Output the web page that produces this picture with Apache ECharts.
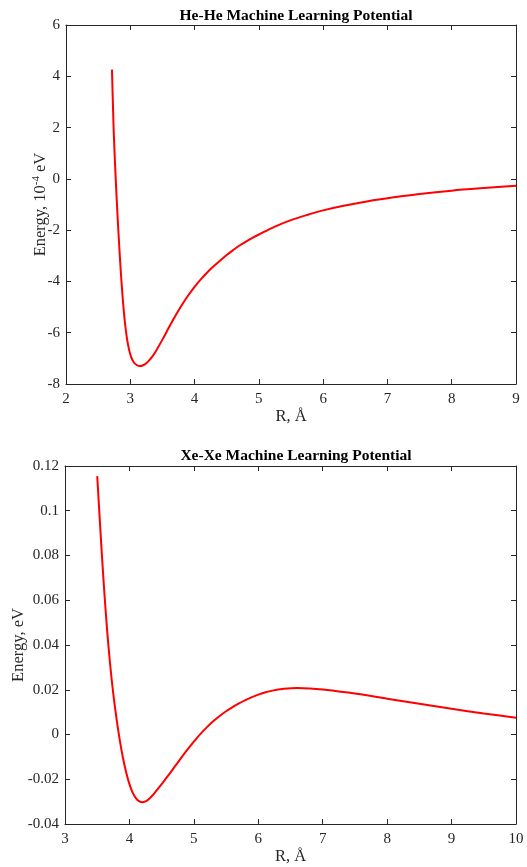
<!DOCTYPE html>
<html>
<head>
<meta charset="utf-8">
<script src="https://cdn.jsdelivr.net/npm/echarts@6/dist/echarts.min.js"></script>
<style>
html,body{margin:0;padding:0;background:#fff;}
#chart{width:527px;height:867px;}
</style>
</head>
<body>
<div id="chart"></div>
<script>
// He-He potential (energy in 1e-4 eV)
const heR = [2.715, 2.74, 2.76, 2.78, 2.80, 2.82, 2.84, 2.86, 2.88, 2.90, 2.92, 2.95, 2.98, 3.01, 3.05, 3.10, 3.15, 3.20, 3.25, 3.30, 3.35, 3.40, 3.50, 3.60, 3.70, 3.80, 3.90, 4.00, 4.10, 4.20, 4.30, 4.40, 4.50, 4.60, 4.70, 4.80, 4.90, 5.00, 5.25, 5.50, 5.75, 6.00, 6.30, 6.70, 7.10, 7.50, 8.00, 8.50, 9.00];
const heE = [4.26, 2.03, 0.75, -0.35, -1.35, -2.27, -3.12, -3.90, -4.58, -5.18, -5.68, -6.25, -6.65, -6.92, -7.14, -7.26, -7.30, -7.27, -7.19, -7.06, -6.90, -6.71, -6.27, -5.80, -5.35, -4.93, -4.55, -4.21, -3.91, -3.64, -3.40, -3.18, -2.97, -2.78, -2.60, -2.45, -2.30, -2.17, -1.86, -1.61, -1.41, -1.23, -1.06, -0.87, -0.72, -0.59, -0.46, -0.36, -0.27];
// Xe-Xe potential (energy in eV)
const xeR = [3.50, 3.55, 3.60, 3.65, 3.70, 3.75, 3.80, 3.85, 3.90, 3.95, 4.00, 4.05, 4.10, 4.15, 4.20, 4.25, 4.30, 4.35, 4.40, 4.50, 4.60, 4.70, 4.80, 4.90, 5.00, 5.10, 5.20, 5.30, 5.40, 5.50, 5.60, 5.70, 5.80, 5.90, 6.00, 6.10, 6.20, 6.40, 6.60, 6.80, 7.00, 7.50, 8.00, 8.50, 9.00, 9.50, 10.00];
const xeE = [0.1155, 0.0910, 0.0680, 0.0480, 0.0315, 0.0180, 0.0070, -0.0025, -0.0105, -0.0170, -0.0222, -0.0260, -0.0284, -0.0298, -0.0303, -0.0299, -0.0289, -0.0275, -0.0258, -0.0222, -0.0184, -0.0145, -0.0106, -0.0068, -0.0032, 0.0002, 0.0032, 0.0059, 0.0083, 0.0104, 0.0122, 0.0139, 0.0154, 0.0167, 0.0178, 0.0188, 0.0195, 0.0204, 0.0208, 0.0206, 0.0201, 0.0183, 0.0160, 0.0137, 0.0115, 0.0094, 0.0075];

const titles = ['He-He Machine Learning Potential', 'Xe-Xe Machine Learning Potential'];
const xNames = ['R, Å', 'R, Å'];

const FONT = '"Liberation Serif", "Times New Roman", serif';
const AX = '#262626';

function zip(a, b) { return a.map((v, i) => [v, b[i]]); }

const axisLine = { show: true, onZero: false, lineStyle: { color: AX, width: 1 } };
const axisTick = { show: true, inside: true, length: 5, lineStyle: { color: AX, width: 1 } };
const axisLabel = { color: AX, fontFamily: FONT, fontSize: 15 };

function xAxisMain(gi, min, max, name) {
  return {
    type: 'value', gridIndex: gi, min: min, max: max, interval: 1,
    position: 'bottom', axisLine, axisTick, splitLine: { show: false },
    axisLabel: Object.assign({ margin: 8 }, axisLabel),
    name: name, nameLocation: 'middle', nameGap: 24, nameMoveOverlap: false,
    nameTextStyle: { color: AX, fontFamily: FONT, fontSize: 16.5 }
  };
}
function xAxisTop(gi, min, max) {
  return {
    type: 'value', gridIndex: gi, min: min, max: max, interval: 1,
    position: 'top', axisLine, axisTick, splitLine: { show: false },
    axisLabel: { show: false }
  };
}
function yAxisMain(gi, min, max, interval, name, gap) {
  return {
    type: 'value', gridIndex: gi, min: min, max: max, interval: interval,
    position: 'left', axisLine, axisTick, splitLine: { show: false },
    axisLabel: Object.assign({ margin: 6 }, axisLabel),
    name: name, nameLocation: 'middle', nameGap: gap, nameMoveOverlap: false,
    nameTextStyle: {
      color: AX, fontFamily: FONT, fontSize: 16.5,
      rich: {
        a: { fontFamily: FONT, fontSize: 16.5, color: AX, lineHeight: 20 },
        s: { fontFamily: FONT, fontSize: 11, color: AX, lineHeight: 20, verticalAlign: 'top', padding: [0, 0, 8, 0] }
      }
    }
  };
}
function yAxisRight(gi, min, max, interval) {
  return {
    type: 'value', gridIndex: gi, min: min, max: max, interval: interval,
    position: 'right', axisLine, axisTick, splitLine: { show: false },
    axisLabel: { show: false }
  };
}

const chart = echarts.init(document.getElementById('chart'), null, { renderer: 'canvas' });
chart.setOption({
  animation: false,
  backgroundColor: '#fff',
  title: [
    { text: titles[0], left: 291, textAlign: 'center', top: 3,
      textStyle: { fontFamily: FONT, fontSize: 15.5, fontWeight: 'bold', color: '#000' } },
    { text: titles[1], left: 291, textAlign: 'center', top: 443,
      textStyle: { fontFamily: FONT, fontSize: 15.5, fontWeight: 'bold', color: '#000' } }
  ],
  grid: [
    { left: 66, top: 25, width: 450, height: 359, outerBoundsMode: 'none', containLabel: false },
    { left: 65, top: 466, width: 451, height: 358, outerBoundsMode: 'none', containLabel: false }
  ],
  xAxis: [
    xAxisMain(0, 2, 9, xNames[0]),
    xAxisTop(0, 2, 9),
    xAxisMain(1, 3, 10, xNames[1]),
    xAxisTop(1, 3, 10)
  ],
  yAxis: [
    yAxisMain(0, -8, 6, 2, '{a|Energy, 10}{s|-4}{a| eV}', 15),
    yAxisRight(0, -8, 6, 2),
    yAxisMain(1, -0.04, 0.12, 0.02, 'Energy, eV', 38),
    yAxisRight(1, -0.04, 0.12, 0.02)
  ],
  series: [
    { type: 'line', xAxisIndex: 0, yAxisIndex: 0, data: zip(heR, heE),
      showSymbol: false, smooth: 0.3,
      lineStyle: { color: '#ff0000', width: 2 }, itemStyle: { color: '#ff0000' } },
    { type: 'line', xAxisIndex: 2, yAxisIndex: 2, data: zip(xeR, xeE),
      showSymbol: false, smooth: 0.3,
      lineStyle: { color: '#ff0000', width: 2 }, itemStyle: { color: '#ff0000' } }
  ]
});
</script>
</body>
</html>
